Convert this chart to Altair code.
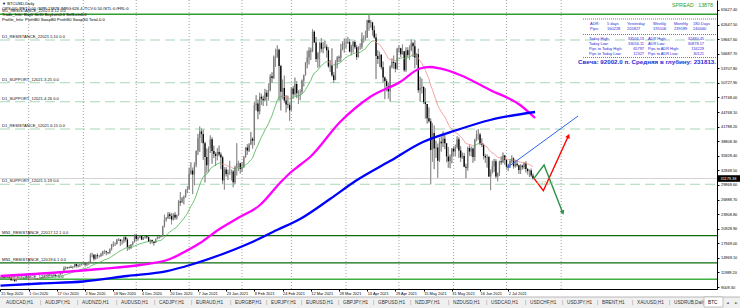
import altair as alt
import pandas as pd
import numpy as np

# ---------------- data (daily BTCUSD candles, values in hundreds of USD) ----------------
START = "2020-09-15"
END = "2021-07-16"
MISSING = ["2020-12-25", "2021-01-01"]

C_SEP = [108,110,109,109,111,109,104,105,102,107,107,107,108,107,108,108]
H_SEP = [110,111,110,110,112,111,110,106,105,108,110,108,108,110,109,109]
L_SEP = [106,106,107,107,109,108,103,103,101,102,105,106,106,106,106,106]
C_OCT = [106,106,106,107,108,106,107,109,111,113,114,115,114,114,115,113,114,115,118,119,128,130,129,131,130,131,137,133,135,136,138]
H_OCT = [110,106,107,107,108,108,107,110,111,115,115,117,116,116,116,116,114,115,120,121,132,132,131,132,134,133,138,138,136,137,140]
L_OCT = [104,104,105,105,106,105,105,105,108,110,112,112,113,113,112,112,113,113,114,116,119,126,127,128,129,128,130,130,130,131,134]
C_NOV = [138,136,140,141,156,156,148,155,153,153,157,163,163,161,160,167,177,178,178,187,187,184,184,192,187,172,171,177,182,196]
H_NOV = [140,138,141,142,159,160,157,157,159,155,160,164,166,164,161,169,178,183,181,188,190,188,187,193,194,190,176,178,183,198]
L_NOV = [136,132,133,135,140,151,144,146,148,150,152,154,158,155,157,158,165,172,174,177,184,174,177,180,183,164,166,168,175,181]
C_DEC = [188,192,195,187,192,194,192,183,186,183,180,188,191,193,194,214,228,231,239,235,228,238,232,237,265,263,271,274,288,290]
H_DEC = [199,193,196,196,192,194,194,193,187,187,183,189,194,194,196,215,238,233,243,243,241,241,243,238,268,284,274,277,290,296]
L_DEC = [183,185,190,186,186,189,189,182,178,179,175,180,188,189,191,193,212,224,229,229,218,226,228,228,236,256,262,259,273,282]
C_JAN = [321,328,320,340,368,394,408,403,384,356,339,373,392,368,362,358,366,361,355,308,330,321,323,324,326,304,335,343,343,331]
H_JAN = [334,345,334,345,369,403,418,414,412,387,373,377,400,396,379,366,374,379,365,358,335,335,330,348,330,329,338,384,348,344]
L_JAN = [290,320,280,298,335,360,366,385,350,304,324,325,364,342,354,338,349,357,331,300,289,316,309,319,308,294,300,318,327,322]
C_FEB = [335,355,375,369,381,393,389,462,465,449,479,475,472,487,479,492,521,517,559,561,575,542,489,497,471,463,462,451]
H_FEB = [345,358,376,382,384,407,396,469,482,473,487,485,481,495,493,506,525,529,563,577,584,577,544,514,522,482,481,467]
L_FEB = [325,334,355,360,366,381,373,380,451,433,443,462,460,470,460,471,490,507,515,540,558,471,451,474,467,447,455,430]
C_MAR = [496,484,505,486,489,489,512,523,549,559,573,572,612,590,556,568,589,577,580,581,574,541,543,523,513,550,559,558,576,587,589]
H_MAR = [498,501,518,511,492,494,514,524,550,573,580,579,617,614,601,570,591,599,591,594,586,580,554,578,529,554,562,563,587,592,598]
L_MAR = [451,475,481,476,464,472,485,500,522,537,545,554,570,589,550,538,540,570,568,578,559,538,530,520,507,513,537,550,550,574,569]
C_APR = [589,591,571,582,591,580,560,581,581,598,598,600,635,630,631,615,600,562,556,565,539,518,511,501,490,540,550,548,536,577]
H_APR = [598,601,597,585,593,594,585,582,588,610,604,614,636,648,636,632,624,608,574,571,566,551,520,515,508,543,557,563,550,579]
L_APR = [578,587,570,564,569,577,554,559,575,577,590,594,599,614,620,604,598,515,546,540,535,508,474,490,475,469,537,536,529,534]
C_MAY = [578,566,572,533,574,564,574,588,582,559,566,492,497,499,468,464,435,429,370,405,373,375,348,387,384,393,384,357,347,357,373]
H_MAY = [584,579,586,572,580,580,584,596,591,595,568,577,520,516,500,496,464,457,435,425,420,389,383,395,398,408,403,383,376,361,374]
L_MAY = [569,560,565,530,530,560,554,572,560,537,544,487,469,486,464,434,424,426,300,346,331,354,313,346,367,376,372,345,334,333,343]
C_JUN = [367,376,392,369,355,358,336,334,374,367,373,356,391,402,402,384,381,358,355,356,316,325,337,347,316,323,347,345,359,350]
H_JUN = [378,381,398,396,378,365,364,342,377,381,377,375,393,410,413,405,394,383,362,361,358,330,348,352,351,324,348,357,365,360]
L_JUN = [358,357,373,354,346,352,335,312,328,358,357,344,348,388,391,380,376,351,344,334,315,288,322,325,312,306,317,340,343,340]
C_JUL = [336,339,347,353,337,342,339,329,338,335,343,331,327,328,318,312]
H_JUL = [350,342,351,359,355,350,349,340,341,340,345,347,333,330,332,322]
L_JUL = [330,327,334,343,332,334,336,321,321,330,331,324,320,315,315,310]

# moving averages (bar index, price)
MA100_I = [0,28.1,56.4,79.1,96.1,106.4,113.2,123.4,134.7,147.2,158.5,164.2,169.9,175.6,192.6,209.6,226.6,237.9,243.6,249.3,260.6,277.7,294.7,303.2]
MA100_V = [11257,11870,12688,13505,14731,16571,18002,20658,23111,25768,30264,32308,33943,35578,42731,47840,50906,53665,53971,53665,52336,49270,46205,43548]
MA200_I = [0,22.4,46.8,71.8,94.4,107.5,124.5,141.5,156.8,169.9,186.9,202.2,220.9,239.6,258.9,277.7,303.2]
MA200_V = [9275,9725,10133,11257,12279,13505,15549,18002,20658,22907,26994,30877,34760,38643,41096,43139,44774]

# horizontal levels
LEVEL_PRICE = [64742, 59490, 50760, 46880, 41300, 30000, 19500, 13950, 10580]
LEVEL_NAME = ["W1_RESISTANCE_22021.4.12 0.0", "D1_RESISTANCE_22021.5.10 0.0", "D1_SUPPORT_12021.3.25 0.0",
              "D1_SUPPORT_12021.4.26 0.0", "D1_RESISTANCE_12021.6.15 0.0", "D1_SUPPORT_12021.5.19 0.0",
              "MN1_RESISTANCE_22017.12.1 0.0", "MN1_RESISTANCE_12019.6.1 0.0", "W1_RESISTANCE_12020.9.7 0.0"]
LEVEL_KIND = ["solid", "dash", "dash", "dash", "dash", "dash", "dark", "dark", "light"]
CURRENT_PRICE = 31179.38

# drawn objects (bar index, price)
TREND_I = [287.9, 327.6]
TREND_P = [33534, 43957]
RED_I = [302.6, 307.9, 322.1]
RED_P = [31224, 28690, 39870]
GREEN_I = [302.6, 308.3, 318.9]
GREEN_P = [31224, 33943, 24194]

Y_TICKS = [9009.30, 11989.20, 14969.10, 17949.00, 20928.90, 23908.80, 26888.70, 29868.60, 32848.50, 35828.40,
           38808.30, 41788.20, 44768.10, 47748.00, 50727.90, 53707.80, 56687.70, 59667.60, 62647.50, 65627.40]

TABS = ["AUDCAD,H1", "AUDJPY,H1", "AUDNZD,H1", "AUDUSD,H1", "CADJPY,H1", "EURAUD,H1", "EURGBP,H1", "EURJPY,H1",
        "EURUSD,H1", "GBPJPY,H1", "GBPUSD,H1", "NZDJPY,H1", "NZDUSD,H1", "USDCAD,H1", "USDCHF,H1", "USDJPY,H1",
        "BRENT,H1", "XAUUSD,H1", "USDRUB,Daily"]

ADR_HEAD = ["ADR:", "5 days", "Yesterday", "Weekly", "Monthly", "180 Days"]
ADR_PIPS = ["Pips:", "160228", "205827", "195106", "239189", "240060"]
INFO_ROWS = [["Today High:", "33506.13", "ADR High:", "32480.45"],
             ["Today Low:", "33056.11", "ADR Low:", "30878.17"],
             ["Pips to Today High:", "65797", "Pips to ADR High:", "116229"],
             ["Pips to Today Low:", "12327", "Pips to ADR Low:", "30121"]]
CANDLE_TEXT = "Свеча: 92002.0 п. Средняя в глубину: 231813."
SPREAD_TEXT = "SPREAD : 13878"
TOP_TEXT = ["▼ BTCUSD,Daily",
            "OPS:0/0 /PFT:0.00 /SPR:13878 /MRG:626.4 /TCV:0.50 /STL:0 /FRL:0",
            "Trade_Info: Buy0 Sell0 BuyLots0.0 SellLots0.0",
            "Profile_Info: ProfitB0 SwapB0 ProfitS0 SwapS0 Total-0.0"]

# ---------------- assemble ----------------
C = C_SEP + C_OCT + C_NOV + C_DEC + C_JAN + C_FEB + C_MAR + C_APR + C_MAY + C_JUN + C_JUL
Hh = H_SEP + H_OCT + H_NOV + H_DEC + H_JAN + H_FEB + H_MAR + H_APR + H_MAY + H_JUN + H_JUL
Ll = L_SEP + L_OCT + L_NOV + L_DEC + L_JAN + L_FEB + L_MAR + L_APR + L_MAY + L_JUN + L_JUL

start = pd.Timestamp(START)
miss = pd.to_datetime(MISSING)
dates = pd.date_range(START, END, freq="D")
dates = dates[~dates.isin(miss)]
n = min(len(dates), len(C), len(Hh), len(Ll))

def bar_index(d):
    d = pd.Timestamp(d)
    return (d - start).days - int((miss < d).sum())

close = np.array(C[:n], float) * 100
opn = np.concatenate([[close[0]], close[:-1]])
high = np.maximum.reduce([np.array(Hh[:n], float) * 100, opn, close])
low = np.minimum.reduce([np.array(Ll[:n], float) * 100, opn, close])
idx = np.arange(n)
candles = pd.DataFrame({"i": idx, "o": opn, "c": close, "h": high, "l": low})
candles["bc"] = np.where(candles.c >= candles.o, "#7a7a7a", "#000000")

ema = pd.Series(close).ewm(span=21, adjust=False).mean().values
seg = pd.DataFrame({"i": idx[:-1], "i2": idx[1:], "v": ema[:-1], "v2": ema[1:]})
seg["col"] = np.where(seg.v2 >= seg.v, "#46b24e", "#f08c8c")

grid_dates = pd.date_range("2020-10-01", "2021-08-01", freq="MS")
grid = pd.DataFrame({"g": [bar_index(d) for d in grid_dates]})

label_vals = list(range(0, 289, 16))
label_txt = [f"{dates[v].day} {dates[v].strftime('%b %Y')}" for v in label_vals]
label_expr = "[" + ",".join("'" + t + "'" for t in label_txt) + "][round(datum.value/16)]"

levels = pd.DataFrame({"p": LEVEL_PRICE, "t": LEVEL_NAME, "k": LEVEL_KIND})
level_color = {"solid": "#2f9e2f", "dark": "#0d6b0d", "light": "#3fb03f", "dash": "#a6d6b6"}
levels["col"] = levels.k.map(level_color)

# ---------------- chart ----------------
FONT = "Liberation Sans"
W, H = 717, 289
XDOM = [-0.28, 406.4]
YDOM = [8600.6, 67664.0]
ONE = pd.DataFrame({"a": [0]})

XAXIS = alt.Axis(values=label_vals, labelExpr=label_expr, labelFontSize=3.9, labelFont=FONT, labelColor="#000",
                 labelAlign="left", labelBaseline="top", labelPadding=0.5, tickSize=2, tickColor="#000",
                 domainColor="#000", domainWidth=1, grid=False, labelOverlap=False, labelFlush=False, title=None)
YAXIS = alt.Axis(orient="right", values=Y_TICKS, format=".2f", labelFontSize=3.9, labelFont=FONT, labelColor="#000",
                 labelAlign="left", labelPadding=1.5, tickSize=2, tickColor="#000", domainColor="#000",
                 domainWidth=1, grid=False, labelOverlap=False, labelFlush=False, title=None)


def xs(field):
    return alt.X(field, type="quantitative", scale=alt.Scale(domain=XDOM, nice=False, zero=False), axis=XAXIS)


def ys(field):
    return alt.Y(field, type="quantitative", scale=alt.Scale(domain=YDOM, nice=False, zero=False), axis=YAXIS)


def txt(s, x, y, size=4.2, color="#000000", align="left", weight="normal", font=FONT):
    return alt.Chart(ONE).mark_text(text=s, align=align, baseline="middle", fontSize=size, color=color,
                                    fontWeight=weight, font=font).encode(x=alt.value(x), y=alt.value(y))


def hline(x1, x2, y, color, width=1.0, dash=None):
    kw = dict(color=color, strokeWidth=width)
    if dash:
        kw["strokeDash"] = dash
    return alt.Chart(ONE).mark_rule(**kw).encode(x=alt.value(x1), x2=alt.value(x2), y=alt.value(y))


def rect(x1, x2, y1, y2, fill, stroke=None):
    kw = dict(fill=fill)
    if stroke:
        kw["stroke"] = stroke
        kw["strokeWidth"] = 0.6
    return alt.Chart(ONE).mark_rect(**kw).encode(x=alt.value(x1), x2=alt.value(x2), y=alt.value(y1), y2=alt.value(y2))


layers = []
# candles carry the axes (first scaled layer)
layers.append(alt.Chart(candles).mark_rule(color="#8f8f8f", strokeWidth=0.9)
              .encode(x=xs("i"), y=ys("l"), y2="h"))
layers.append(alt.Chart(grid).mark_rule(color="#8c8c8c", strokeDash=[1, 2], strokeWidth=0.8)
              .encode(x=xs("g"), y=alt.value(0), y2=alt.value(H)))
layers.append(alt.Chart(levels[levels.k == "dash"]).mark_rule(strokeDash=[10, 5], strokeWidth=1.1)
              .encode(x=alt.value(0), x2=alt.value(W), y=ys("p"), color=alt.Color("col:N", scale=None)))
layers.append(alt.Chart(levels[levels.k != "dash"]).mark_rule(strokeWidth=1.4)
              .encode(x=alt.value(0), x2=alt.value(W), y=ys("p"), color=alt.Color("col:N", scale=None)))
layers.append(alt.Chart(levels).mark_text(align="left", baseline="middle", dy=-2.8, fontSize=4.1, font=FONT,
                                          color="#111")
              .encode(x=alt.value(2), y=ys("p"), text="t:N"))
layers.append(alt.Chart(pd.DataFrame({"p": [CURRENT_PRICE]})).mark_rule(color="#c8c8c8", strokeWidth=0.8)
              .encode(x=alt.value(0), x2=alt.value(W), y=ys("p")))
layers.append(alt.Chart(candles).mark_rule(color="#8f8f8f", strokeWidth=0.9)
              .encode(x=xs("i"), y=ys("l"), y2="h"))
layers.append(alt.Chart(candles).mark_rule(strokeWidth=1.3)
              .encode(x=xs("i"), y=ys("o"), y2="c", color=alt.Color("bc:N", scale=None)))
layers.append(alt.Chart(seg).mark_rule(strokeWidth=0.8)
              .encode(x=xs("i"), x2="i2", y=ys("v"), y2="v2", color=alt.Color("col:N", scale=None)))
layers.append(alt.Chart(pd.DataFrame({"i": MA100_I, "v": MA100_V})).mark_line(color="#ff00ff", strokeWidth=2.3,
                                                                             interpolate="monotone")
              .encode(x=xs("i"), y=ys("v")))
layers.append(alt.Chart(pd.DataFrame({"i": MA200_I, "v": MA200_V})).mark_line(color="#0000ff", strokeWidth=2.3,
                                                                             interpolate="monotone")
              .encode(x=xs("i"), y=ys("v")))

# hand-drawn trend line and arrows
layers.append(alt.Chart(pd.DataFrame({"i": TREND_I, "p": TREND_P})).mark_line(color="#2f63f2", strokeWidth=1)
              .encode(x=xs("i"), y=ys("p")))
layers.append(alt.Chart(pd.DataFrame({"i": TREND_I[:1], "p": TREND_P[:1]}))
              .mark_point(shape="triangle-up", filled=True, size=14, angle=234, color="#2f63f2", opacity=1)
              .encode(x=xs("i"), y=ys("p")))
red = pd.DataFrame({"i": RED_I, "p": RED_P, "o": [0, 1, 2]})
green = pd.DataFrame({"i": GREEN_I, "p": GREEN_P, "o": [0, 1, 2]})
layers.append(alt.Chart(red).mark_line(color="#ff0000", strokeWidth=1.4).encode(x=xs("i"), y=ys("p"), order="o:O"))
layers.append(alt.Chart(green).mark_line(color="#2a9248", strokeWidth=1.4).encode(x=xs("i"), y=ys("p"), order="o:O"))
layers.append(alt.Chart(red.tail(1)).mark_point(shape="triangle-up", filled=True, size=24, angle=25,
                                                color="#ff0000", opacity=1).encode(x=xs("i"), y=ys("p")))
layers.append(alt.Chart(green.tail(1)).mark_point(shape="triangle-up", filled=True, size=24, angle=159,
                                                  color="#2a9248", opacity=1).encode(x=xs("i"), y=ys("p")))
layers.append(alt.Chart(pd.DataFrame({"i": [304.5], "p": [30300], "t": ["0.27_14"]}))
              .mark_text(align="left", baseline="middle", fontSize=4.4, font=FONT, color="#86cc8a")
              .encode(x=xs("i"), y=ys("p"), text="t:N"))

# price tag on the axis
layers.append(alt.Chart(pd.DataFrame({"p": [CURRENT_PRICE]}))
              .mark_point(shape="M-1,-0.3L1,-0.3L1,0.3L-1,0.3Z", filled=True, size=484, color="#000", opacity=1)
              .encode(x=alt.value(729), y=ys("p")))
layers.append(alt.Chart(pd.DataFrame({"p": [CURRENT_PRICE], "t": [f"{CURRENT_PRICE:.2f}"]}))
              .mark_text(align="left", baseline="middle", fontSize=3.9, font=FONT, color="#fff")
              .encode(x=alt.value(720.5), y=ys("p"), text="t:N"))

# top-left info texts
for s, y in zip(TOP_TEXT, [3.5, 9, 15, 20]):
    layers.append(txt(s, 2, y, size=4.1))

# spread + info panel
layers.append(txt(SPREAD_TEXT, 672, 5, size=5.3, color="#2ca02c"))
BLUE = "#2b2bd6"
layers.append(hline(583, 717, 19, "#4a4ae0", 0.8, [1, 1]))
layers.append(hline(583, 717, 34.5, "#4a4ae0", 0.8, [1, 1]))
layers.append(hline(583, 717, 57.5, "#4a4ae0", 0.8, [1, 1]))
for s, x in zip(ADR_HEAD, [590, 607, 627, 653, 674, 693]):
    layers.append(txt(s, x, 24, size=4.0, color=BLUE))
for s, x in zip(ADR_PIPS, [590, 607, 627, 653, 674, 693]):
    layers.append(txt(s, x, 29.3, size=4.0, color=BLUE))
for row, y in zip(INFO_ROWS, [39, 43.8, 48.8, 53.8]):
    layers.append(txt(row[0], 589, y, size=3.9, color=BLUE))
    layers.append(txt(row[1], 644, y, size=3.9, color=BLUE, align="right"))
    layers.append(txt(row[2], 648, y, size=3.9, color=BLUE))
    layers.append(txt(row[3], 704, y, size=3.9, color=BLUE, align="right"))
layers.append(txt(CANDLE_TEXT, 716, 62.3, size=6.2, color=BLUE, align="right", weight="bold"))

# tab bar
layers.append(rect(0, 740, 297, 308, "#f0f0f0"))
layers.append(hline(0, 740, 297, "#a8a8a8", 0.8))
tab_x = [6, 45, 82, 121, 159, 196, 235, 271, 306, 343, 378, 415, 453, 491, 530, 567, 602, 637, 674]
for k, (s, x) in enumerate(zip(TABS, tab_x)):
    layers.append(txt(s, x, 303.3, size=4.7, color="#333333"))
    if k > 0:
        layers.append(txt("|", x - 5, 303.3, size=4.7, color="#777777"))
layers.append(rect(704, 723, 297, 307, "#ffffff", "#a0a0a0"))
layers.append(txt("BTC", 708, 303, size=4.7, color="#111111"))
layers.append(txt("◄", 726, 303, size=3.6, color="#444444", font="DejaVu Sans"))
layers.append(txt("►", 735, 303, size=3.6, color="#444444", font="DejaVu Sans"))

chart = alt.layer(*layers).properties(
    width=W, height=H, autosize="none",
    padding={"left": 0, "top": 0, "right": 23, "bottom": 19},
    background="white",
).configure_view(stroke=None)

chart.save("out.html", embed_options={"renderer": "svg", "actions": False})
